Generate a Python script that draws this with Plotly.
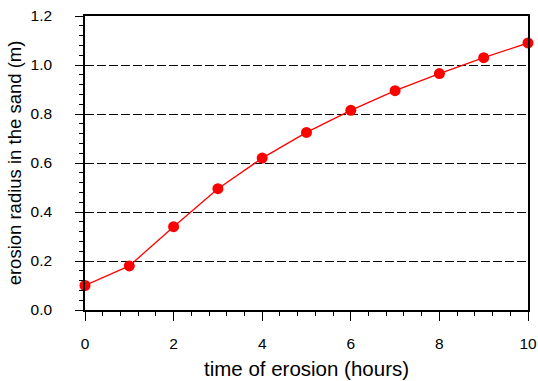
import plotly.graph_objects as go

hours = [0, 1, 2, 3, 4, 5, 6, 7, 8, 9, 10]
radius = [0.10, 0.18, 0.34, 0.495, 0.62, 0.725, 0.815, 0.895, 0.965, 1.03, 1.09]

x_ticks = [0, 2, 4, 6, 8, 10]
y_ticks = [0.0, 0.2, 0.4, 0.6, 0.8, 1.0, 1.2]
y_labels = ["0.0", "0.2", "0.4", "0.6", "0.8", "1.0", "1.2"]

fig = go.Figure()
fig.add_trace(go.Scatter(
    x=hours, y=radius, mode="lines+markers",
    line=dict(color="#ff0000", width=1.3),
    marker=dict(color="#ff0000", size=11),
    cliponaxis=False,
))

font = "Liberation Sans, Arial, sans-serif"
fig.update_layout(
    width=538, height=381,
    margin=dict(l=85, r=10, t=16, b=71, autoexpand=False),
    paper_bgcolor="white", plot_bgcolor="white",
    showlegend=False,
    font=dict(family=font, color="black", size=15),
)
fig.update_xaxes(
    range=[0, 10], tickvals=x_ticks, ticks="outside", ticklen=9, tickwidth=1.3,
    tickcolor="black", showline=True, linecolor="black", linewidth=1.5, mirror=True,
    showgrid=False, zeroline=False, automargin=False,
    ticklabeloverflow="allow", ticklabelstandoff=10,
    minor=dict(dtick=0.4, tick0=0, ticks="outside", ticklen=4, tickcolor="black", tickwidth=1.3),
    title=dict(text="time of erosion (hours)", font=dict(size=20.5), standoff=10),
    tickfont=dict(size=15.5),
)
fig.update_yaxes(
    range=[0, 1.2], tickvals=y_ticks, ticktext=y_labels, ticks="outside", ticklen=8, tickwidth=1.3,
    tickcolor="black", showline=True, linecolor="black", linewidth=1.5, mirror=True,
    showgrid=True, gridcolor="black", gridwidth=1, griddash="9px,3px", zeroline=False,
    automargin=False, ticklabeloverflow="allow", ticklabelstandoff=20,
    minor=dict(dtick=0.04, tick0=0, ticks="outside", ticklen=4, tickcolor="black", tickwidth=1.3, showgrid=False),
    title=dict(text="erosion radius in the sand (m)", font=dict(size=18.5), standoff=4),
    tickfont=dict(size=15.5),
)
fig.write_html(
    "out.html",
    config={"displayModeBar": False},
    post_script="document.body.style.margin='0';document.body.style.overflow='hidden';",
)
